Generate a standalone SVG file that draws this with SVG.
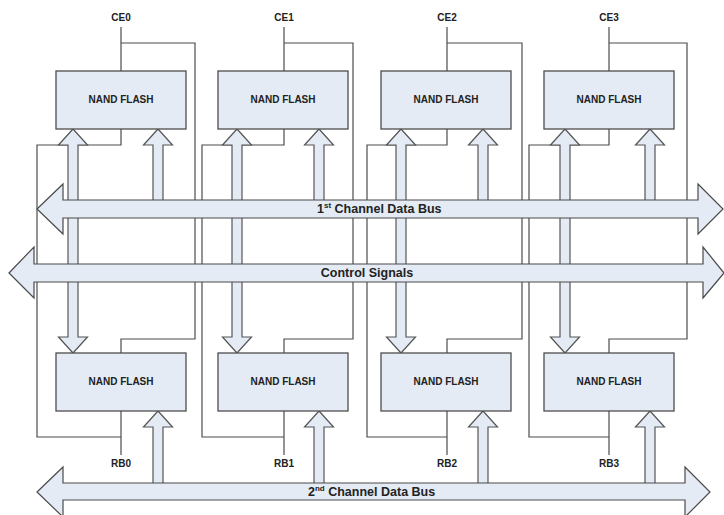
<svg xmlns="http://www.w3.org/2000/svg" width="724" height="515" viewBox="0 0 724 515">
<style>
.box{fill:#e4ebf5;stroke:#4d4d4d;stroke-width:1.3}
.arr{fill:#e4ebf5;stroke:#555;stroke-width:1.2}
.bus{fill:#e4ebf5;stroke:#4a4a4a;stroke-width:1.2}
.ln{fill:none;stroke:#4d4d4d;stroke-width:1.2}
.t{font-family:"Liberation Sans",Arial,sans-serif;font-weight:bold;font-size:10px;fill:#222;text-anchor:middle}
.bt{font-family:"Liberation Sans",Arial,sans-serif;font-weight:bold;font-size:12.5px;fill:#222}
</style>
<rect width="724" height="515" fill="#fff"/>
<g id="connectors">
<!-- CE / RB wiring -->
<path class="ln" d="M121,27V71M121,43H195V339H121V353M121,129V145H37V437H121M121,411V455"/>
<path class="ln" d="M284,27V71M284,43H353V339H284V353M284,129V145H202V437H284M284,411V455"/>
<path class="ln" d="M447,27V71M447,43H522V339H447V353M447,129V145H367V437H447M447,411V455"/>
<path class="ln" d="M609,27V71M609,43H687V339H609V353M609,129V145H529V437H609M609,411V455"/>
<!-- vertical double arrows -->
<path class="arr" d="M73,129L87.5,145H78V337H87.5L73,353L58.5,337H68V145H58.5Z"/>
<path class="arr" d="M237,129L251.5,145H242V337H251.5L237,353L222.5,337H232V145H222.5Z"/>
<path class="arr" d="M401,129L415.5,145H406V337H415.5L401,353L386.5,337H396V145H386.5Z"/>
<path class="arr" d="M565,129L579.5,145H570V337H579.5L565,353L550.5,337H560V145H550.5Z"/>
<!-- up arrows from 1st bus -->
<path class="arr" d="M158,129L172.5,145H163V209H153V145H143.5Z"/>
<path class="arr" d="M319,129L333.5,145H324V209H314V145H304.5Z"/>
<path class="arr" d="M483,129L497.5,145H488V209H478V145H468.5Z"/>
<path class="arr" d="M650,129L664.5,145H655V209H645V145H635.5Z"/>
<!-- up arrows from 2nd bus -->
<path class="arr" d="M158,411L172.5,427H163V491H153V427H143.5Z"/>
<path class="arr" d="M319,411L333.5,427H324V491H314V427H304.5Z"/>
<path class="arr" d="M483,411L497.5,427H488V491H478V427H468.5Z"/>
<path class="arr" d="M650,411L664.5,427H655V491H645V427H635.5Z"/>
</g>
<g id="bus1">
<path class="bus" d="M37,209L63,184V200H698V184L723,209L698,234V218H63V234Z"/>
<text class="bt" x="317" y="213">1<tspan font-size="8" dy="-5">st</tspan><tspan dy="5"> Channel Data Bus</tspan></text>
</g>
<g id="control">
<path class="bus" d="M9,273L34,247V264H703V247L724,273L703,298V282H34V298Z"/>
<text class="bt" x="367" y="277" text-anchor="middle">Control Signals</text>
</g>
<g id="bus2">
<path class="bus" d="M37,492L63,467V483H685V467L710,492L685,517V500H63V517Z"/>
<text class="bt" x="308" y="496">2<tspan font-size="8" dy="-5">nd</tspan><tspan dy="5"> Channel Data Bus</tspan></text>
</g>
<g id="nand-top-0"><rect class="box" x="56" y="71" width="130" height="58"/><text class="t" x="121" y="103">NAND FLASH</text></g>
<g id="nand-top-1"><rect class="box" x="218" y="71" width="130" height="58"/><text class="t" x="283" y="103">NAND FLASH</text></g>
<g id="nand-top-2"><rect class="box" x="381" y="71" width="130" height="58"/><text class="t" x="446" y="103">NAND FLASH</text></g>
<g id="nand-top-3"><rect class="box" x="544" y="71" width="130" height="58"/><text class="t" x="609" y="103">NAND FLASH</text></g>
<g id="nand-bot-0"><rect class="box" x="56" y="353" width="130" height="58"/><text class="t" x="121" y="385">NAND FLASH</text></g>
<g id="nand-bot-1"><rect class="box" x="218" y="353" width="130" height="58"/><text class="t" x="283" y="385">NAND FLASH</text></g>
<g id="nand-bot-2"><rect class="box" x="381" y="353" width="130" height="58"/><text class="t" x="446" y="385">NAND FLASH</text></g>
<g id="nand-bot-3"><rect class="box" x="544" y="353" width="130" height="58"/><text class="t" x="609" y="385">NAND FLASH</text></g>
<g id="labels">
<text class="t" x="121" y="21">CE0</text>
<text class="t" x="284" y="21">CE1</text>
<text class="t" x="447" y="21">CE2</text>
<text class="t" x="609" y="21">CE3</text>
<text class="t" x="121" y="467">RB0</text>
<text class="t" x="284" y="467">RB1</text>
<text class="t" x="447" y="467">RB2</text>
<text class="t" x="609" y="467">RB3</text>
</g>
</svg>
